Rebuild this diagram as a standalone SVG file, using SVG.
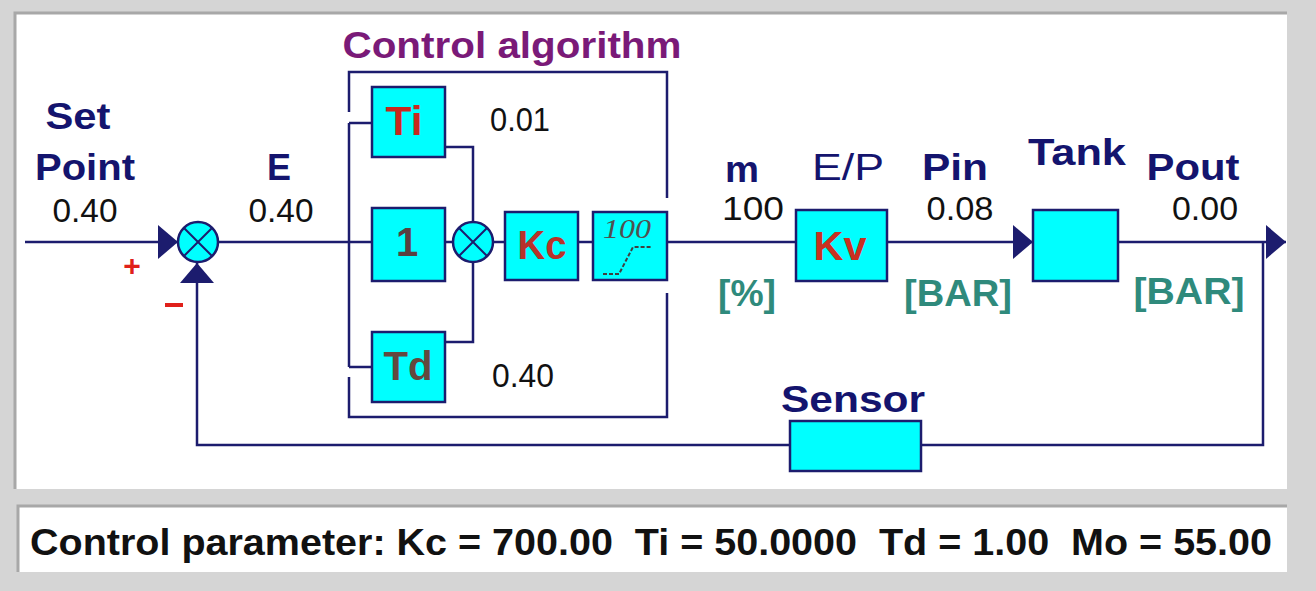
<svg xmlns="http://www.w3.org/2000/svg" width="1316" height="591" viewBox="0 0 1316 591">
<defs>
<style>
.ln{fill:none;stroke:#1c1c6e;stroke-width:2.5}
.blk{fill:#00ffff;stroke:#1c1c6e;stroke-width:2.5}
.lbl{font-family:"Liberation Sans",Arial,sans-serif;font-weight:bold;fill:#14146e;font-size:37px}
.num{font-family:"Liberation Sans",Arial,sans-serif;fill:#111;font-size:34px}
.unit{font-family:"Liberation Sans",Arial,sans-serif;font-weight:bold;fill:#2f8a7c;font-size:36px}
.gain{font-family:"Liberation Sans",Arial,sans-serif;font-weight:bold;font-size:40px;text-anchor:middle}
.sign{fill:#e0201a}
</style>
<marker id="arr" markerUnits="userSpaceOnUse" markerWidth="20" markerHeight="34" refX="20" refY="17" orient="auto">
<path d="M0,0 L20,17 L0,34 Z" fill="#1c1c6e"/>
</marker>
<g id="sumsym">
<circle cx="0" cy="0" r="20" class="blk"/>
<path d="M-14,-14 L14,14 M14,-14 L-14,14" stroke="#1c1c6e" stroke-width="2" fill="none"/>
</g>
</defs>
<rect x="0" y="0" width="1316" height="591" fill="#d5d5d5"/>
<rect x="15" y="13" width="1272" height="476" fill="#ffffff"/>
<path d="M15,489 V13 H1287" fill="none" stroke="#a8a8a8" stroke-width="3"/>
<rect x="18" y="506" width="1269" height="66" fill="#ffffff"/>
<path d="M18,572 V506 H1287" fill="none" stroke="#a8a8a8" stroke-width="3"/>

<g id="connectors">
<path class="ln" d="M25,242 H178" marker-end="url(#arr)"/>
<path class="ln" d="M218,242 H372"/>
<path class="ln" d="M349,123 V367 M349,123 H372 M349,367 H372"/>
<path class="ln" d="M445,147 H473 V222"/>
<path class="ln" d="M445,342 H473 V263"/>
<path class="ln" d="M445,242 H453"/>
<path class="ln" d="M493,242 H505"/>
<path class="ln" d="M578,242 H593"/>
<path class="ln" d="M667,242 H796"/>
<path class="ln" d="M887,242 H1033" marker-end="url(#arr)"/>
<path class="ln" d="M1118,242 H1286" marker-end="url(#arr)"/>
<path class="ln" d="M1263,242 V445 H921"/>
<path class="ln" d="M790,445 H197 V263" marker-end="url(#arr)"/>
</g>

<g id="control-algorithm">
<path class="ln" d="M349,112 V72 H667 V198 M667,293 V417 H349 V377"/>
<text x="512" y="58" text-anchor="middle" font-family="Liberation Sans,Arial,sans-serif" font-weight="bold" font-size="37" fill="#7a1a78" textLength="339" lengthAdjust="spacingAndGlyphs">Control algorithm</text>
</g>

<g id="setpoint">
<text class="lbl" x="78" y="129" text-anchor="middle" textLength="65" lengthAdjust="spacingAndGlyphs">Set</text>
<text class="lbl" x="85" y="180" text-anchor="middle" textLength="100" lengthAdjust="spacingAndGlyphs">Point</text>
<text class="num" x="85" y="222" text-anchor="middle" textLength="65" lengthAdjust="spacingAndGlyphs">0.40</text>
</g>

<g id="sum1">
<use href="#sumsym" x="198" y="242"/>
<text class="sign" x="132" y="276" text-anchor="middle" font-family="Liberation Sans,Arial,sans-serif" font-weight="bold" font-size="30">+</text>
<rect class="sign" x="165" y="303" width="18" height="4"/>
</g>

<g id="error">
<text class="lbl" x="279" y="180" text-anchor="middle" textLength="24" lengthAdjust="spacingAndGlyphs">E</text>
<text class="num" x="281" y="222" text-anchor="middle" textLength="65" lengthAdjust="spacingAndGlyphs">0.40</text>
</g>

<g id="Ti">
<rect class="blk" x="372" y="87" width="73" height="70"/>
<text class="gain" x="404" y="135" fill="#c8281e" font-size="42" textLength="37" lengthAdjust="spacingAndGlyphs">Ti</text>
<text class="num" x="490" y="131" textLength="60" lengthAdjust="spacingAndGlyphs">0.01</text>
</g>

<g id="P">
<rect class="blk" x="372" y="208" width="73" height="73"/>
<text class="gain" x="407" y="256" fill="#5a4040">1</text>
</g>

<g id="Td">
<rect class="blk" x="372" y="332" width="73" height="70"/>
<text class="gain" x="408" y="380" fill="#64483e" font-size="43" textLength="49" lengthAdjust="spacingAndGlyphs">Td</text>
<text class="num" x="492" y="387" textLength="62" lengthAdjust="spacingAndGlyphs">0.40</text>
</g>

<g id="sum2">
<use href="#sumsym" x="473" y="242"/>
</g>

<g id="Kc">
<rect class="blk" x="505" y="212" width="73" height="68"/>
<text class="gain" x="542" y="259" fill="#b8322a" textLength="49" lengthAdjust="spacingAndGlyphs">Kc</text>
</g>

<g id="limiter">
<rect class="blk" x="593" y="212" width="74" height="68"/>
<text x="627" y="238" text-anchor="middle" font-family="Liberation Serif,serif" font-style="italic" font-size="27" fill="#505050" textLength="48" lengthAdjust="spacingAndGlyphs">100</text>
<polyline points="603,274 619,274 633,247 652,247" fill="none" stroke="#404040" stroke-width="2" stroke-dasharray="4,2"/>
</g>

<g id="m">
<text class="lbl" x="742" y="182" text-anchor="middle" textLength="34" lengthAdjust="spacingAndGlyphs">m</text>
<text class="num" x="753" y="220" text-anchor="middle" textLength="62" lengthAdjust="spacingAndGlyphs">100</text>
<text class="unit" x="747" y="306" text-anchor="middle" textLength="58" lengthAdjust="spacingAndGlyphs">[%]</text>
</g>

<g id="Kv">
<text x="848" y="180" text-anchor="middle" font-family="Liberation Sans,Arial,sans-serif" font-size="37" fill="#14146e" textLength="72" lengthAdjust="spacingAndGlyphs">E/P</text>
<rect class="blk" x="796" y="210" width="91" height="71"/>
<text class="gain" x="840" y="260" fill="#c83020" textLength="53" lengthAdjust="spacingAndGlyphs">Kv</text>
</g>

<g id="Pin">
<text class="lbl" x="955" y="180" text-anchor="middle" textLength="66" lengthAdjust="spacingAndGlyphs">Pin</text>
<text class="num" x="960" y="220" text-anchor="middle" textLength="67" lengthAdjust="spacingAndGlyphs">0.08</text>
<text class="unit" x="958" y="306" text-anchor="middle" textLength="108" lengthAdjust="spacingAndGlyphs">[BAR]</text>
</g>

<g id="Tank">
<text class="lbl" x="1077" y="165" text-anchor="middle" textLength="98" lengthAdjust="spacingAndGlyphs">Tank</text>
<rect class="blk" x="1033" y="210" width="85" height="71"/>
</g>

<g id="Pout">
<text class="lbl" x="1193" y="180" text-anchor="middle" textLength="93" lengthAdjust="spacingAndGlyphs">Pout</text>
<text class="num" x="1205" y="220" text-anchor="middle" textLength="66" lengthAdjust="spacingAndGlyphs">0.00</text>
<text class="unit" x="1189" y="304" text-anchor="middle" textLength="111" lengthAdjust="spacingAndGlyphs">[BAR]</text>
</g>

<g id="Sensor">
<text class="lbl" x="853" y="412" text-anchor="middle" textLength="144" lengthAdjust="spacingAndGlyphs">Sensor</text>
<rect class="blk" x="790" y="421" width="131" height="50"/>
</g>

<g id="status">
<text x="30" y="555" xml:space="preserve" font-family="Liberation Sans,Arial,sans-serif" font-weight="bold" font-size="37" fill="#111" textLength="1242" lengthAdjust="spacingAndGlyphs">Control parameter: Kc = 700.00  Ti = 50.0000  Td = 1.00  Mo = 55.00</text>
</g>
</svg>
